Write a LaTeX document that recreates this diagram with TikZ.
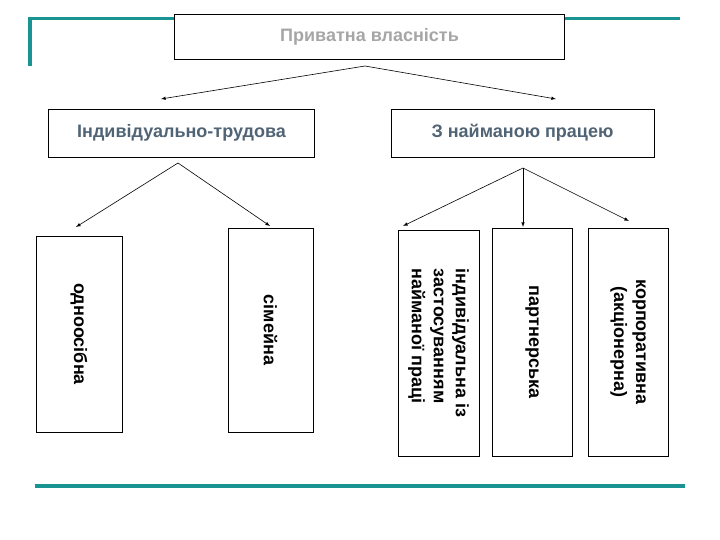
\documentclass[tikz,border=0pt]{standalone}
\usepackage{fontspec}
\setmainfont{Liberation Sans}
\definecolor{rulecol}{RGB}{26,147,147}
\definecolor{headcol}{RGB}{81,100,117}
\definecolor{titlecol}{RGB}{166,166,166}

\begin{document}
\begin{tikzpicture}[x=1pt,y=-1pt,box/.style={draw,line width=0.8pt,fill=white,inner sep=0pt,font=\fontsize{18}{22}\selectfont\bfseries},
vbox/.style={box,rotate=-90,align=center},rule/.style={draw=rulecol,line width=3.5pt},link/.style={-latex,line width=0.6pt}]
\useasboundingbox (0,0) rectangle (720,540);
\draw[rule] (30,66) -- (30,18.5) -- (680,18.5);
\draw[rule] (35,486) -- (685,486);

\node[box,text=titlecol,minimum width=390,minimum height=45] (own) at (369.5,36.5) {Приватна власність};
\node[box,text=headcol,minimum width=266,minimum height=48] (indiv) at (181.5,133) {Індивідуально-трудова};
\node[box,text=headcol,minimum width=263,minimum height=48] (hired) at (522.5,133) {З найманою працею};

\node[vbox,minimum width=196,minimum height=86] (single) at (79,334) {одноосібна};
\node[vbox,minimum width=204,minimum height=85] (family) at (270.5,330) {сімейна};
\node[vbox,align=left,minimum width=226,minimum height=81] (indhire) at (438.5,343) {індивідуальна із\\застосуванням\\найманої праці};
\node[vbox,minimum width=228,minimum height=80] (partner) at (532,342) {партнерська};
\node[vbox,minimum width=228,minimum height=80] (corp) at (628,342) {корпоративна\\(акціонерна)};

\coordinate (s0) at (365,66);
\coordinate (s1) at (178,163);
\coordinate (s2) at (523,168);
\coordinate (e1) at (161,99);
\coordinate (e2) at (556,99);
\coordinate (e3) at (76,227);
\coordinate (e4) at (270,226);
\coordinate (e5) at (403,226);
\coordinate (e6) at (523,227);
\coordinate (e7) at (629,221);
\draw[link] (s0) -- (e1);
\draw[link] (s0) -- (e2);
\draw[link] (s1) -- (e3);
\draw[link] (s1) -- (e4);
\draw[link] (s2) -- (e5);
\draw[link] (s2) -- (e6);
\draw[link] (s2) -- (e7);

\end{tikzpicture}
\end{document}
